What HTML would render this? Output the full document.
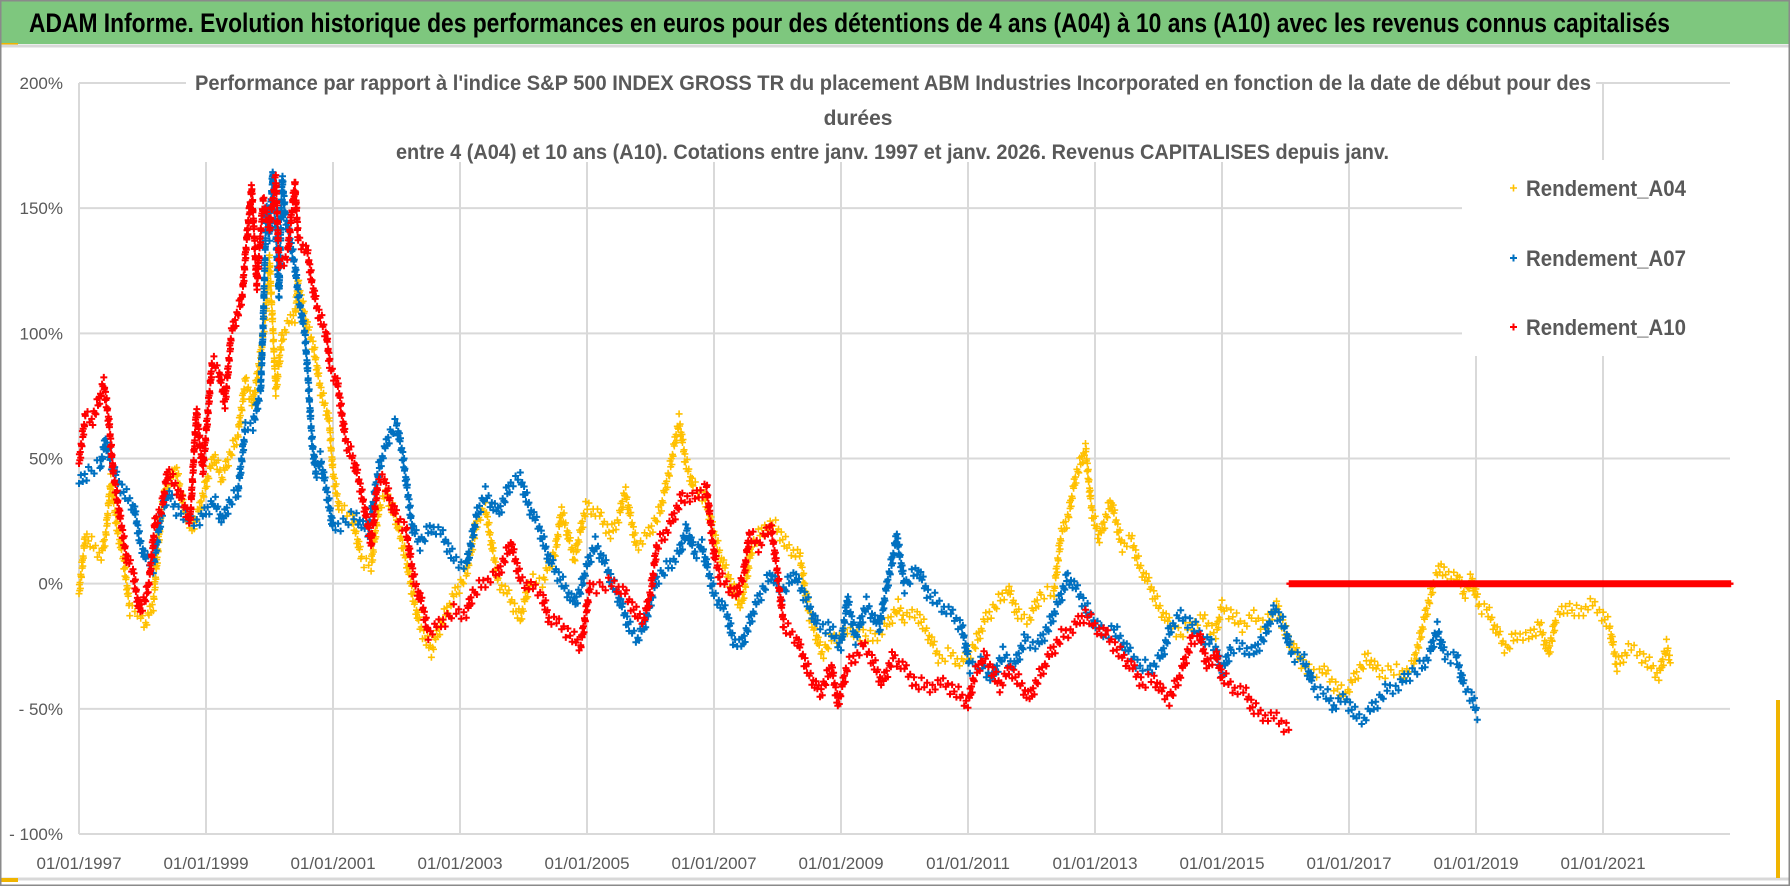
<!DOCTYPE html>
<html><head><meta charset="utf-8">
<style>
html,body{margin:0;padding:0;background:#fff;}
#wrap{position:relative;width:1790px;height:886px;overflow:hidden;}
svg{display:block;font-family:"Liberation Sans",sans-serif;}
</style></head>
<body>
<div id="wrap">
<svg id="chart" width="1790" height="886" viewBox="0 0 1790 886">
  <rect x="0" y="0" width="1790" height="886" fill="#ffffff"/>
  <rect x="0" y="0" width="1790" height="44" fill="#7ec77e"/>
  <rect x="0" y="43" width="18" height="4" fill="#f0b400"/>
  <line x1="0" y1="46" x2="1790" y2="46" stroke="#d8d8d8" stroke-width="3"/>
  <text x="29" y="32" font-size="27" font-weight="bold" fill="#000" textLength="1641" lengthAdjust="spacingAndGlyphs">ADAM Informe. Evolution historique des performances en euros pour des détentions de 4 ans (A04) à 10 ans (A10) avec les revenus connus capitalisés</text>
  <g id="grid"></g>
  <g id="yaxis"></g>
  <g id="xaxis"></g>
  <rect x="186" y="70" width="1410" height="92" fill="#fff"/>
  <rect x="1462" y="160" width="290" height="196" fill="#fff"/>
  <g id="series"></g>
  <g fill="#595959" font-weight="bold" font-size="21">
    <text x="195" y="90" textLength="1396" lengthAdjust="spacingAndGlyphs">Performance par rapport à l'indice S&amp;P 500 INDEX GROSS TR  du placement ABM Industries Incorporated en fonction de la date de début pour des</text>
    <text x="858" y="125" text-anchor="middle">durées</text>
    <text x="396" y="159" textLength="993" lengthAdjust="spacingAndGlyphs">entre 4 (A04) et 10 ans (A10).  Cotations entre janv. 1997 et janv. 2026. Revenus CAPITALISES depuis janv.</text>
  </g>
  <g font-size="22" font-weight="bold" fill="#595959">
    <g>
      <path d="M1510,188h7M1513.5,184.5v7" stroke="#ffc000" stroke-width="1.6"/>
      <text x="1526" y="196" textLength="160" lengthAdjust="spacingAndGlyphs">Rendement_A04</text>
    </g>
    <g>
      <path d="M1510,258h7M1513.5,254.5v7" stroke="#0070c0" stroke-width="2"/>
      <text x="1526" y="266" textLength="160" lengthAdjust="spacingAndGlyphs">Rendement_A07</text>
    </g>
    <g>
      <path d="M1510,327h7M1513.5,323.5v7" stroke="#ff0000" stroke-width="2"/>
      <text x="1526" y="335" textLength="160" lengthAdjust="spacingAndGlyphs">Rendement_A10</text>
    </g>
  </g>
  <line x1="0" y1="879" x2="1790" y2="879" stroke="#d8d8d8" stroke-width="3"/>
  <rect x="0" y="878" width="18" height="4" fill="#f0b400"/>
  <rect x="1776" y="700" width="4" height="178" fill="#f0b400"/>
  <rect x="0.5" y="0.5" width="1789" height="885" fill="none" stroke="#8a8a8a" stroke-width="2"/>
</svg>
</div>
<script>
// ---- data ----
const yTicks = [200, 150, 100, 50, 0, -50, -100];
const yTickLabels = ["200%", "150%", "100%", "50%", "0%", "- 50%", "- 100%"];
const xTicks = [1997, 1999, 2001, 2003, 2005, 2007, 2009, 2011, 2013, 2015, 2017, 2019, 2021];
const xTickLabels = ["01/01/1997","01/01/1999","01/01/2001","01/01/2003","01/01/2005","01/01/2007","01/01/2009","01/01/2011","01/01/2013","01/01/2015","01/01/2017","01/01/2019","01/01/2021"];

const a04Dates = [1997.0,1997.05,1997.1,1997.2,1997.35,1997.42,1997.5,1997.6,1997.7,1997.8,1997.92,1998.05,1998.17,1998.3,1998.4,1998.53,1998.65,1998.78,1998.9,1999.0,1999.13,1999.25,1999.37,1999.5,1999.62,1999.74,1999.86,1999.95,2000.0,2000.1,2000.2,2000.28,2000.33,2000.4,2000.45,2000.57,2000.7,2000.8,2000.94,2001.0,2001.1,2001.3,2001.45,2001.6,2001.72,2001.85,2002.0,2002.15,2002.26,2002.37,2002.55,2002.73,2002.9,2003.1,2003.27,2003.4,2003.6,2003.77,2003.95,2004.1,2004.3,2004.5,2004.6,2004.8,2004.98,2005.03,2005.2,2005.37,2005.5,2005.6,2005.78,2005.97,2006.15,2006.3,2006.45,2006.55,2006.67,2006.85,2007.0,2007.1,2007.3,2007.43,2007.6,2007.8,2007.97,2008.15,2008.35,2008.5,2008.7,2008.85,2009.1,2009.35,2009.5,2009.72,2009.9,2010.0,2010.2,2010.37,2010.55,2010.73,2010.9,2011.1,2011.28,2011.45,2011.63,2011.8,2011.97,2012.15,2012.35,2012.47,2012.57,2012.7,2012.85,2012.95,2013.07,2013.25,2013.43,2013.57,2013.7,2013.87,2014.0,2014.17,2014.35,2014.53,2014.7,2014.9,2015.0,2015.14,2015.32,2015.5,2015.68,2015.86,2016.04,2016.22,2016.4,2016.58,2016.76,2016.94,2017.12,2017.3,2017.48,2017.66,2017.84,2018.02,2018.2,2018.33,2018.45,2018.57,2018.69,2018.81,2018.93,2019.05,2019.17,2019.29,2019.47,2019.65,2019.83,2020.0,2020.14,2020.26,2020.44,2020.62,2020.8,2020.98,2021.1,2021.22,2021.4,2021.58,2021.76,2021.88,2022.0,2022.06];
const a04Values = [-4,7,19,16,11,19,41,22,10,-10,-11,-16,-8,30,40,46,30,22,30,40,51,42,51,59,81,72,91,111,130,77,99,103,105,107,120,105,94,78,65,44,30,27,10,7,30,36,25,10,-5,-17,-27,-14,-5,4,25,30,1,-5,-14,1,1,13,29,10,30,31,27,20,26,37,15,20,29,45,65,49,39,35,20,11,-2,-9,15,23,23,15,11,-12,-28,-22,-20,-20,-22,-17,-9,-14,-12,-20,-30,-28,-32,-25,-14,-8,-2,-13,-14,-4,-4,20,26,43,54,29,18,33,15,18,7,-1,-9,-16,-20,-16,-14,-20,-9,-12,-17,-13,-17,-9,-22,-30,-36,-34,-40,-45,-36,-29,-36,-34,-36,-32,-13,0,7,2,4,-4,2,-9,-10,-17,-26,-20,-22,-16,-28,-14,-9,-12,-8,-12,-17,-33,-26,-28,-33,-37,-25,-30];

const a07Dates = [1997.0,1997.15,1997.33,1997.42,1997.51,1997.63,1997.75,1997.87,1997.96,1998.05,1998.17,1998.3,1998.4,1998.53,1998.72,1998.9,1999.0,1999.13,1999.26,1999.38,1999.5,1999.62,1999.74,1999.86,1999.9,1999.95,2000.0,2000.05,2000.15,2000.2,2000.25,2000.4,2000.45,2000.56,2000.6,2000.67,2000.73,2000.8,2000.95,2001.0,2001.2,2001.37,2001.55,2001.73,2001.9,2002.0,2002.1,2002.25,2002.37,2002.55,2002.73,2002.9,2003.1,2003.27,2003.4,2003.6,2003.8,2003.95,2004.1,2004.25,2004.4,2004.6,2004.8,2004.9,2005.0,2005.13,2005.3,2005.5,2005.68,2005.8,2005.9,2006.1,2006.28,2006.45,2006.57,2006.7,2006.8,2007.0,2007.2,2007.3,2007.43,2007.55,2007.7,2007.9,2008.07,2008.25,2008.45,2008.63,2008.8,2009.0,2009.1,2009.23,2009.4,2009.6,2009.7,2009.88,2010.0,2010.2,2010.37,2010.55,2010.73,2010.9,2011.03,2011.2,2011.38,2011.55,2011.73,2011.9,2012.1,2012.27,2012.45,2012.57,2012.75,2012.95,2013.13,2013.3,2013.5,2013.67,2013.87,2014.05,2014.2,2014.35,2014.53,2014.7,2014.9,2015.0,2015.14,2015.32,2015.5,2015.68,2015.83,2015.98,2016.1,2016.28,2016.46,2016.64,2016.76,2016.94,2017.12,2017.24,2017.42,2017.6,2017.78,2017.96,2018.15,2018.27,2018.39,2018.51,2018.69,2018.81,2018.93,2019.02];
const a07Values = [40,45,47,57,48,40,35,30,17,10,7,28,36,30,26,25,29,33,25,33,36,62,64,77,104,150,139,164,115,162,147,127,116,99,85,57,44,50,30,22,25,27,20,47,60,64,51,22,16,23,19,10,7,28,36,28,40,42,30,22,10,1,-8,-2,7,16,7,-6,-18,-22,-17,2,7,12,22,12,16,-4,-12,-22,-25,-16,-6,4,-4,4,-6,-17,-17,-25,-6,-22,-8,-18,-4,19,-1,6,-4,-8,-12,-17,-33,-32,-38,-28,-33,-22,-25,-17,-6,3,-4,-14,-20,-18,-26,-32,-34,-29,-17,-13,-16,-22,-26,-36,-26,-25,-28,-20,-10,-17,-28,-30,-42,-44,-49,-46,-53,-54,-48,-42,-41,-36,-33,-28,-18,-29,-29,-41,-45,-52];

const a10Dates = [1997.0,1997.1,1997.2,1997.3,1997.39,1997.47,1997.54,1997.65,1997.75,1997.85,1997.95,1998.05,1998.1,1998.2,1998.3,1998.4,1998.5,1998.6,1998.75,1998.85,1998.95,1999.1,1999.2,1999.3,1999.4,1999.5,1999.57,1999.65,1999.72,1999.8,1999.9,2000.0,2000.1,2000.15,2000.28,2000.4,2000.45,2000.6,2000.67,2000.75,2000.9,2000.95,2001.07,2001.2,2001.3,2001.4,2001.5,2001.6,2001.7,2001.8,2001.9,2002.0,2002.15,2002.27,2002.4,2002.5,2002.7,2002.9,2003.1,2003.2,2003.4,2003.6,2003.8,2003.95,2004.15,2004.3,2004.4,2004.6,2004.8,2004.9,2005.05,2005.2,2005.43,2005.6,2005.8,2005.9,2006.0,2006.1,2006.3,2006.5,2006.7,2006.88,2007.0,2007.1,2007.23,2007.35,2007.47,2007.56,2007.7,2007.9,2008.0,2008.1,2008.3,2008.5,2008.67,2008.85,2008.95,2009.1,2009.35,2009.47,2009.65,2009.82,2010.0,2010.18,2010.4,2010.65,2010.85,2011.0,2011.1,2011.25,2011.37,2011.5,2011.67,2011.85,2011.97,2012.1,2012.3,2012.47,2012.65,2012.85,2013.0,2013.2,2013.4,2013.57,2013.75,2013.93,2014.1,2014.17,2014.35,2014.53,2014.65,2014.77,2014.9,2015.0,2015.2,2015.38,2015.5,2015.68,2015.86,2016.05];
const a10Values = [48,67,65,72,80,65,44,26,10,5,-11,-5,0,25,30,45,40,35,25,69,45,89,85,72,100,108,115,140,158,119,153,142,162,127,131,160,138,132,120,110,99,87,80,57,51,42,30,16,39,42,33,27,22,2,-8,-20,-16,-11,-12,-4,1,4,16,2,-2,-5,-14,-17,-22,-25,-1,-1,0,-4,-13,-14,-4,15,23,35,34,39,12,2,-1,-5,4,20,15,23,4,-17,-22,-36,-44,-33,-48,-33,-25,-29,-40,-29,-34,-40,-41,-40,-44,-48,-37,-29,-34,-41,-34,-41,-46,-38,-28,-21,-18,-12,-17,-21,-28,-33,-40,-38,-45,-46,-36,-22,-21,-33,-28,-37,-42,-44,-50,-53,-54,-58];
const a10FlatDates = [2016.07, 2023.0];
const a10FlatValues = [0, 0];

// ---- scales ----
const X0 = 79, X1 = 1730, Y0 = 834, Y1 = 83;
const xMin = 1997, xMax = 2023, yMin = -100, yMax = 200;
function sx(d){ return X0 + (d - xMin) / (xMax - xMin) * (X1 - X0); }
function sy(v){ return Y0 - (v - yMin) / (yMax - yMin) * (Y0 - Y1); }

const NS = "http://www.w3.org/2000/svg";
const grid = document.getElementById("grid");
const yaxis = document.getElementById("yaxis");
const xaxis = document.getElementById("xaxis");
const seriesG = document.getElementById("series");

yTicks.forEach((t, i) => {
  const ln = document.createElementNS(NS, "line");
  ln.setAttribute("x1", X0); ln.setAttribute("x2", X1);
  ln.setAttribute("y1", sy(t)); ln.setAttribute("y2", sy(t));
  ln.setAttribute("stroke", "#d9d9d9"); ln.setAttribute("stroke-width", "2");
  
  
  grid.appendChild(ln);
  const tx = document.createElementNS(NS, "text");
  tx.setAttribute("x", 63); tx.setAttribute("y", sy(t) + 6);
  tx.setAttribute("text-anchor", "end"); tx.setAttribute("font-size", "17");
  tx.setAttribute("fill", "#595959");
  tx.textContent = yTickLabels[i];
  
  
  yaxis.appendChild(tx);
});
xTicks.forEach((t, i) => {
  const ln = document.createElementNS(NS, "line");
  ln.setAttribute("x1", sx(t)); ln.setAttribute("x2", sx(t));
  ln.setAttribute("y1", Y1); ln.setAttribute("y2", Y0);
  ln.setAttribute("stroke", "#d9d9d9"); ln.setAttribute("stroke-width", "2");
  
  
  grid.appendChild(ln);
  const tx = document.createElementNS(NS, "text");
  tx.setAttribute("x", sx(t)); tx.setAttribute("y", 869);
  tx.setAttribute("text-anchor", "middle"); tx.setAttribute("font-size", "17");
  tx.setAttribute("fill", "#595959");
  tx.textContent = xTickLabels[i];
  
  
  xaxis.appendChild(tx);
});

// fixed visual spread pattern (pixels) to render the daily scatter cloud
const spread = [0, -6, 3, -2, 7, -4, 1, 5, -7, 2, -3, 6, -1, 4, -5];
function drawSeries(dates, vals, color, sw, name, useSpread){
  let d = "";
  const h = 3.5;
  let c = 0;
  const mk = (px, py) => {
    const off = useSpread ? spread[c % spread.length] : 0;
    c++;
    const yy = py + off;
    d += `M${(px-h).toFixed(1)},${yy.toFixed(1)}h${2*h}M${px.toFixed(1)},${(yy-h).toFixed(1)}v${2*h}`;
  };
  for (let i = 0; i < dates.length; i++){
    const x = sx(dates[i]), y = sy(vals[i]);
    mk(x, y);
    if (i < dates.length - 1){
      const x2 = sx(dates[i+1]), y2 = sy(vals[i+1]);
      const len = Math.hypot(x2 - x, y2 - y);
      const n = Math.max(1, Math.ceil(len / (useSpread ? 3.2 : 2.4)));
      for (let k = 1; k < n; k++){
        mk(x + (x2 - x) * k / n, y + (y2 - y) * k / n);
      }
    }
  }
  const p = document.createElementNS(NS, "path");
  p.setAttribute("d", d);
  p.setAttribute("stroke", color);
  p.setAttribute("stroke-width", sw);
  p.setAttribute("fill", "none");
  
  
  seriesG.appendChild(p);
}
drawSeries(a04Dates, a04Values, "#ffc000", 1.6, "series-rendement-a04", true);
drawSeries(a07Dates, a07Values, "#0070c0", 2, "series-rendement-a07", true);
drawSeries(a10Dates, a10Values, "#ff0000", 2, "series-rendement-a10", true);
drawSeries(a10FlatDates, a10FlatValues, "#ff0000", 2.4, "series-rendement-a10-flat", false);
</script>
</body></html>
